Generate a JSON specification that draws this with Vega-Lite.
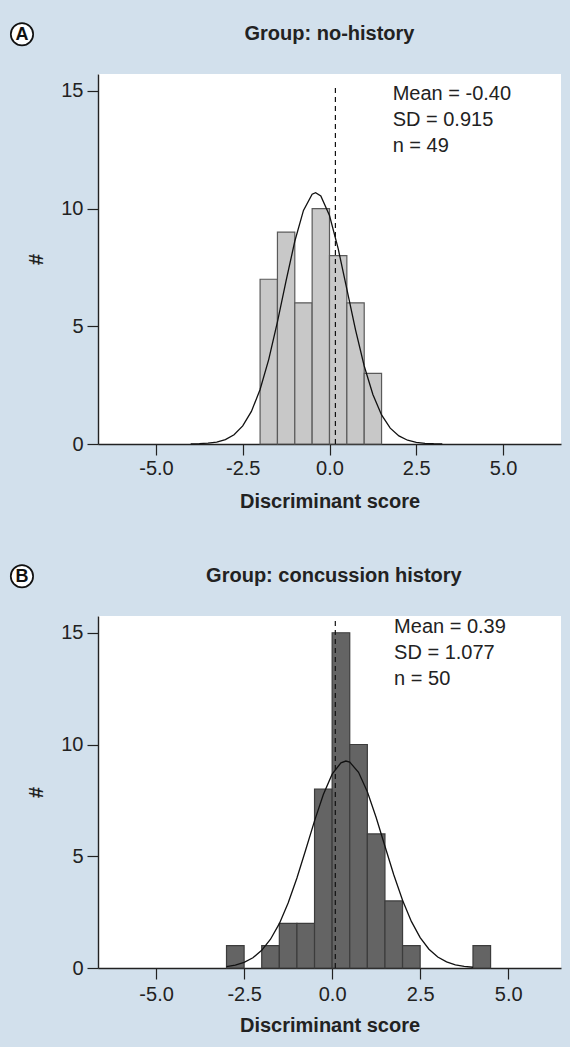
{
  "$schema": "https://vega.github.io/schema/vega-lite/v6.json",
  "background": "#d2e0ec",
  "padding": {"left": 7, "top": 19, "right": 13, "bottom": 12},
  "spacing": 50,
  "config": {
    "font": "Liberation Sans",
    "locale": {"number": {"decimal": ".", "thousands": ",", "grouping": [3], "currency": ["$", ""], "minus": "-"}},
    "view": {"fill": "white", "stroke": null},
    "axis": {
      "grid": false,
      "domainColor": "#222222",
      "domainWidth": 1.4,
      "tickColor": "#222222",
      "tickWidth": 1.2,
      "tickSize": 11,
      "labelColor": "#222222",
      "titleColor": "#222222",
      "labelFontSize": 20,
      "titleFontSize": 20,
      "titleFontWeight": "bold",
      "labelFont": "Liberation Sans",
      "titleFont": "Liberation Sans"
    }
  },
  "datasets": {
    "histA": [
      {"bin_start": -2.0, "bin_end": -1.5, "count": 7},
      {"bin_start": -1.5, "bin_end": -1.0, "count": 9},
      {"bin_start": -1.0, "bin_end": -0.5, "count": 6},
      {"bin_start": -0.5, "bin_end": 0.0, "count": 10},
      {"bin_start": 0.0, "bin_end": 0.5, "count": 8},
      {"bin_start": 0.5, "bin_end": 1.0, "count": 6},
      {"bin_start": 1.0, "bin_end": 1.5, "count": 3}
    ],
    "histB": [
      {"bin_start": -3.0, "bin_end": -2.5, "count": 1},
      {"bin_start": -2.0, "bin_end": -1.5, "count": 1},
      {"bin_start": -1.5, "bin_end": -1.0, "count": 2},
      {"bin_start": -1.0, "bin_end": -0.5, "count": 2},
      {"bin_start": -0.5, "bin_end": 0.0, "count": 8},
      {"bin_start": 0.0, "bin_end": 0.5, "count": 15},
      {"bin_start": 0.5, "bin_end": 1.0, "count": 10},
      {"bin_start": 1.0, "bin_end": 1.5, "count": 6},
      {"bin_start": 1.5, "bin_end": 2.0, "count": 3},
      {"bin_start": 2.0, "bin_end": 2.5, "count": 1},
      {"bin_start": 4.0, "bin_end": 4.5, "count": 1}
    ],
    "curveA": [
      {"x": -4.0, "y": 0.006},
      {"x": -3.75, "y": 0.015},
      {"x": -3.5, "y": 0.034},
      {"x": -3.25, "y": 0.084},
      {"x": -3.0, "y": 0.188},
      {"x": -2.75, "y": 0.395},
      {"x": -2.5, "y": 0.767},
      {"x": -2.25, "y": 1.383},
      {"x": -2.0, "y": 2.315},
      {"x": -1.75, "y": 3.597},
      {"x": -1.5, "y": 5.185},
      {"x": -1.25, "y": 6.937},
      {"x": -1.0, "y": 8.613},
      {"x": -0.75, "y": 9.926},
      {"x": -0.5, "y": 10.616},
      {"x": -0.4, "y": 10.68},
      {"x": -0.25, "y": 10.538},
      {"x": 0.0, "y": 9.706},
      {"x": 0.25, "y": 8.298},
      {"x": 0.5, "y": 6.583},
      {"x": 0.75, "y": 4.849},
      {"x": 1.0, "y": 3.313},
      {"x": 1.25, "y": 2.101},
      {"x": 1.5, "y": 1.237},
      {"x": 1.75, "y": 0.675},
      {"x": 2.0, "y": 0.343},
      {"x": 2.25, "y": 0.161},
      {"x": 2.5, "y": 0.070},
      {"x": 2.75, "y": 0.029},
      {"x": 3.0, "y": 0.011},
      {"x": 3.25, "y": 0.004}
    ],
    "curveB": [
      {"x": -3.0, "y": 0.065},
      {"x": -2.75, "y": 0.132},
      {"x": -2.5, "y": 0.253},
      {"x": -2.25, "y": 0.459},
      {"x": -2.0, "y": 0.790},
      {"x": -1.75, "y": 1.286},
      {"x": -1.5, "y": 1.985},
      {"x": -1.25, "y": 2.905},
      {"x": -1.0, "y": 4.026},
      {"x": -0.75, "y": 5.288},
      {"x": -0.5, "y": 6.582},
      {"x": -0.25, "y": 7.761},
      {"x": 0.0, "y": 8.672},
      {"x": 0.25, "y": 9.182},
      {"x": 0.39, "y": 9.26},
      {"x": 0.5, "y": 9.212},
      {"x": 0.75, "y": 8.757},
      {"x": 1.0, "y": 7.888},
      {"x": 1.25, "y": 6.732},
      {"x": 1.5, "y": 5.445},
      {"x": 1.75, "y": 4.173},
      {"x": 2.0, "y": 3.029},
      {"x": 2.25, "y": 2.084},
      {"x": 2.5, "y": 1.358},
      {"x": 2.75, "y": 0.839},
      {"x": 3.0, "y": 0.491},
      {"x": 3.25, "y": 0.272},
      {"x": 3.5, "y": 0.143},
      {"x": 3.75, "y": 0.071},
      {"x": 4.0, "y": 0.034}
    ]
  },
  "vconcat": [
    {
      "width": 463,
      "height": 370,
      "layer": [
        {
          "data": {"name": "histA"},
          "mark": {"type": "rect", "fill": "#c8c8c8", "stroke": "#5a5a5a", "strokeWidth": 1.2},
          "encoding": {
            "x": {"field": "bin_start", "type": "quantitative",
                  "scale": {"domain": [-6.67, 6.67], "nice": false, "zero": false},
                  "axis": {"values": [-5, -2.5, 0, 2.5, 5], "format": ".1f", "title": "Discriminant score", "labelPadding": 3, "titlePadding": 13}},
            "x2": {"field": "bin_end"},
            "y": {"field": "count", "type": "quantitative",
                  "scale": {"domain": [0, 15.72], "nice": false},
                  "axis": {"values": [0, 5, 10, 15], "title": "#", "labelPadding": 4, "titlePadding": 14}},
            "y2": {"datum": 0}
          }
        },
        {
          "data": {"name": "curveA"},
          "mark": {"type": "line", "color": "#111111", "strokeWidth": 1.3},
          "encoding": {
            "x": {"field": "x", "type": "quantitative"},
            "y": {"field": "y", "type": "quantitative"}
          }
        },
        {
          "data": {"values": [{}]},
          "mark": {"type": "rule", "color": "#111111", "strokeDash": [5, 4], "strokeWidth": 1.2},
          "encoding": {"x": {"datum": 0.17}, "y": {"datum": 0}, "y2": {"datum": 15.2}}
        },
        {
          "data": {"values": [{}]},
          "mark": {"type": "text", "align": "left", "baseline": "middle", "fontSize": 20, "lineHeight": 26, "color": "#222222",
                   "text": ["Mean = -0.40", "SD = 0.915", "n = 49"]},
          "encoding": {"x": {"datum": 1.82}, "y": {"datum": 14.87}}
        },
        {
          "data": {"values": [{}]},
          "mark": {"type": "text", "align": "center", "baseline": "middle", "fontSize": 20, "fontWeight": "bold", "color": "#222222",
                   "text": "Group: no-history"},
          "encoding": {"x": {"datum": 0}, "y": {"datum": 17.41}}
        },
        {
          "data": {"values": [{}]},
          "mark": {"type": "point", "shape": "circle", "size": 500, "filled": true, "fill": "white", "stroke": "#111111", "strokeWidth": 1.7, "opacity": 1},
          "encoding": {"x": {"datum": -8.86}, "y": {"datum": 17.41}}
        },
        {
          "data": {"values": [{}]},
          "mark": {"type": "text", "align": "center", "baseline": "middle", "fontSize": 18, "fontWeight": "bold", "color": "#111111", "text": "A", "dy": 1},
          "encoding": {"x": {"datum": -8.86}, "y": {"datum": 17.41}}
        }
      ]
    },
    {
      "width": 463,
      "height": 352,
      "layer": [
        {
          "data": {"name": "histB"},
          "mark": {"type": "rect", "fill": "#646464", "stroke": "#3c3c3c", "strokeWidth": 1.2},
          "encoding": {
            "x": {"field": "bin_start", "type": "quantitative",
                  "scale": {"domain": [-6.65, 6.5], "nice": false, "zero": false},
                  "axis": {"values": [-5, -2.5, 0, 2.5, 5], "format": ".1f", "title": "Discriminant score", "labelPadding": 5, "titlePadding": 11}},
            "x2": {"field": "bin_end"},
            "y": {"field": "count", "type": "quantitative",
                  "scale": {"domain": [0, 15.75], "nice": false},
                  "axis": {"values": [0, 5, 10, 15], "title": "#", "labelPadding": 4, "titlePadding": 14}},
            "y2": {"datum": 0}
          }
        },
        {
          "data": {"name": "curveB"},
          "mark": {"type": "line", "color": "#111111", "strokeWidth": 1.3},
          "encoding": {
            "x": {"field": "x", "type": "quantitative"},
            "y": {"field": "y", "type": "quantitative"}
          }
        },
        {
          "data": {"values": [{}]},
          "mark": {"type": "rule", "color": "#111111", "strokeDash": [5, 4], "strokeWidth": 1.2},
          "encoding": {"x": {"datum": 0.09}, "y": {"datum": 0}, "y2": {"datum": 15.65}}
        },
        {
          "data": {"values": [{}]},
          "mark": {"type": "text", "align": "left", "baseline": "middle", "fontSize": 20, "lineHeight": 26, "color": "#222222",
                   "text": ["Mean = 0.39", "SD = 1.077", "n = 50"]},
          "encoding": {"x": {"datum": 1.76}, "y": {"datum": 15.26}}
        },
        {
          "data": {"values": [{}]},
          "mark": {"type": "text", "align": "center", "baseline": "middle", "fontSize": 20, "fontWeight": "bold", "color": "#222222",
                   "text": "Group: concussion history"},
          "encoding": {"x": {"datum": 0.05}, "y": {"datum": 17.53}}
        },
        {
          "data": {"values": [{}]},
          "mark": {"type": "point", "shape": "circle", "size": 500, "filled": true, "fill": "white", "stroke": "#111111", "strokeWidth": 1.7, "opacity": 1},
          "encoding": {"x": {"datum": -8.81}, "y": {"datum": 17.53}}
        },
        {
          "data": {"values": [{}]},
          "mark": {"type": "text", "align": "center", "baseline": "middle", "fontSize": 18, "fontWeight": "bold", "color": "#111111", "text": "B", "dy": 1},
          "encoding": {"x": {"datum": -8.81}, "y": {"datum": 17.53}}
        }
      ]
    }
  ]
}
